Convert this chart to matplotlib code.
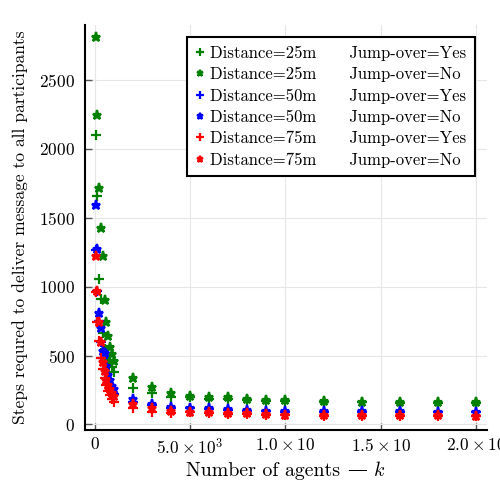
import numpy as np
import matplotlib
matplotlib.use("Agg")
import matplotlib.pyplot as plt
from matplotlib.offsetbox import TextArea, HPacker, AnchoredOffsetbox

plt.rcParams['font.family'] = ['cmr10', 'DejaVu Serif']
plt.rcParams['mathtext.fontset'] = 'cm'
plt.rcParams['axes.formatter.use_mathtext'] = True

# number of agents
k = [50, 100, 200, 300, 400, 500, 600, 700, 800, 900, 1000,
     2000, 3000, 4000, 5000, 6000, 7000, 8000, 9000, 10000,
     12000, 14000, 16000, 18000, 20000]

# steps, 25m
d25_yes = [2100, 1660, 1055, 910, 665, 545, 505, 470, 445, 415, 380,
           268, 225, 203, 196, 188, 185, 180, 172, 168, 164, 161, 158, 156, 154]
d25_no = [2815, 2245, 1715, 1425, 1225, 905, 745, 645, 565, 510, 460,
          340, 275, 232, 210, 203, 196, 188, 178, 174, 170, 166, 164, 162, 160]
# steps, 50m
d50_yes = [1265, 970, 750, 600, 480, 400, 340, 300, 270, 240, 220,
           160, 138, 123, 116, 110, 104, 100, 96, 94, 92, 90, 89, 88, 87]
d50_no = [1595, 1275, 810, 700, 535, 520, 425, 360, 325, 280, 255,
          188, 152, 130, 123, 116, 109, 105, 101, 100, 98, 96, 95, 94, 93]
# steps, 75m
d75_yes = [965, 745, 605, 485, 405, 335, 290, 245, 215, 185, 160,
           116, 87, 80, 87, 82, 78, 75, 72, 68, 65, 63, 62, 61, 60]
d75_no = [1225, 970, 745, 595, 455, 385, 325, 290, 255, 225, 205,
          145, 116, 101, 94, 87, 83, 80, 76, 72, 70, 68, 67, 66, 65]

green = '#008000'
blue = '#0000ff'
red = '#ff0000'
gap = '      '

fig = plt.figure(figsize=(5, 4.84), dpi=100)
ax = fig.add_axes([0.17, 0.1116, 0.804, 0.8364])

series = [
    (d25_yes, '+', green, 'Distance=25m' + gap + 'Jump-over=Yes'),
    (d25_no, '*', green, 'Distance=25m' + gap + 'Jump-over=No'),
    (d50_yes, '+', blue, 'Distance=50m' + gap + 'Jump-over=Yes'),
    (d50_no, '*', blue, 'Distance=50m' + gap + 'Jump-over=No'),
    (d75_yes, '+', red, 'Distance=75m' + gap + 'Jump-over=Yes'),
    (d75_no, '*', red, 'Distance=75m' + gap + 'Jump-over=No'),
]
for vals, m, c, lab in series:
    ax.plot(k, vals, linestyle='none', marker=m, color=c,
            markersize=7 if m == '+' else 6.5, markeredgewidth=1.6, label=lab)

ax.set_xlim(-525, 20580)
ax.set_ylim(-40, 2898)
ax.set_xticks([0, 5000, 10000, 15000, 20000])
ax.set_xticklabels(['0', r'$5.0\times10^{3}$', r'$1.0\times10$',
                    r'$1.5\times10$', r'$2.0\times10$'])
ax.set_yticks([0, 500, 1000, 1500, 2000, 2500])
ax.tick_params(direction='in', length=5, width=1, color='#555555',
               labelsize=12.5, pad=7)
ax.tick_params(axis='x', pad=5)
ax.grid(True, color='#e6e6e6', linewidth=0.8)
ax.set_axisbelow(True)
for s in ['top', 'right']:
    ax.spines[s].set_visible(False)
for s in ['left', 'bottom']:
    ax.spines[s].set_linewidth(1.5)

# x label: the em dash is not in cmr10, so it comes from DejaVu Serif
parts = [TextArea('Number of agents ', textprops=dict(fontsize=14.3, family='cmr10')),
         TextArea('—', textprops=dict(fontsize=14.3, family='DejaVu Serif')),
         TextArea(r' $k$', textprops=dict(fontsize=14.3))]
xlab = AnchoredOffsetbox(loc='center', child=HPacker(children=parts, pad=0, sep=0, align='baseline'),
                         frameon=False, bbox_to_anchor=(0.5, -0.1),
                         bbox_transform=ax.transAxes, borderpad=0, pad=0)
ax.add_artist(xlab)

ax.set_ylabel('Steps requred to deliver message to all participants', fontsize=12.6, labelpad=8)

leg = ax.legend(loc='upper right', bbox_to_anchor=(0.970, 0.970), fontsize=12,
                fancybox=False, edgecolor='black', framealpha=1,
                handlelength=0.5, handletextpad=0.4, borderpad=0.5,
                labelspacing=0.36, markerscale=0.75, borderaxespad=0)
leg.get_frame().set_linewidth(1.5)

fig.savefig('out.png', dpi=100)
